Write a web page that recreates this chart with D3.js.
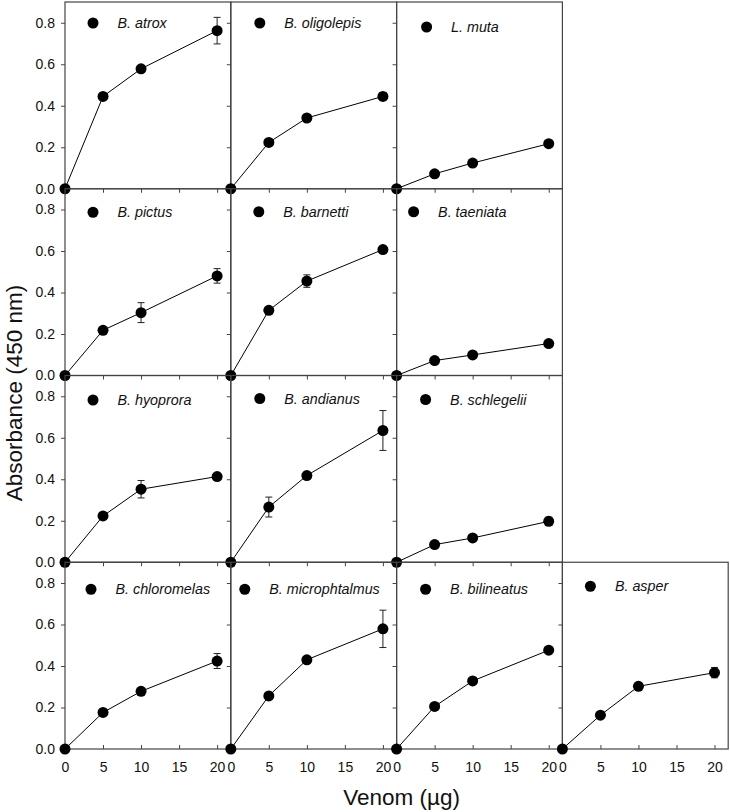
<!DOCTYPE html>
<html>
<head>
<meta charset="utf-8">
<script src="https://cdn.jsdelivr.net/npm/d3@7"></script>
<style>
  html, body { margin: 0; padding: 0; background: #fff; }
  svg { display: block; font-family: Arial, "Liberation Sans", sans-serif; }
</style>
</head>
<body>
<svg id="chart" width="730" height="812"></svg>
<script>
// ---------------- data ----------------
const doses = [0, 5, 10, 20];
const species = ["B. atrox", "B. oligolepis", "L. muta",
                 "B. pictus", "B. barnetti", "B. taeniata",
                 "B. hyoprora", "B. andianus", "B. schlegelii",
                 "B. chloromelas", "B. microphtalmus", "B. bilineatus", "B. asper"];
const absorbance = [
  [0, 0.445, 0.578, 0.762],
  [0, 0.223, 0.341, 0.445],
  [0, 0.072, 0.124, 0.217],
  [0, 0.218, 0.303, 0.480],
  [0, 0.314, 0.455, 0.607],
  [0, 0.072, 0.099, 0.154],
  [0, 0.223, 0.352, 0.413],
  [0, 0.266, 0.418, 0.635],
  [0, 0.085, 0.117, 0.197],
  [0, 0.176, 0.278, 0.424],
  [0, 0.256, 0.430, 0.579],
  [0, 0.205, 0.328, 0.476],
  [0, 0.163, 0.302, 0.368]
];
const errors = [
  [0, 0.010, 0.012, 0.064],
  [0, 0.008, 0.010, 0.018],
  [0, 0.005, 0.006, 0.008],
  [0, 0.010, 0.048, 0.035],
  [0, 0.008, 0.030, 0.010],
  [0, 0.005, 0.005, 0.006],
  [0, 0.010, 0.042, 0.010],
  [0, 0.048, 0.010, 0.096],
  [0, 0.008, 0.008, 0.020],
  [0, 0.010, 0.010, 0.036],
  [0, 0.010, 0.010, 0.090],
  [0, 0.008, 0.010, 0.012],
  [0, 0.008, 0.010, 0.025]
];
const xTicks = [0, 5, 10, 15, 20];
const yTicks = [0, 0.2, 0.4, 0.6, 0.8];
const xTitle = "Venom (\u00B5g)";
const yTitle = "Absorbance (450 nm)";

// ---------------- layout ----------------
const left0 = 65, top0 = 2;
const colW = 165.8, rowH = 186.75;
// legend offsets (dx, dy) from the panel's top-left corner
const legendLayout = [
  [28, 21], [29, 21], [30, 25],
  [28, 23.5], [28, 23], [17, 23],
  [28, 24.5], [29, 23], [29, 24],
  [26, 27], [14, 27], [29, 27], [28, 24]
];
const textGap = 24.5;

const svg = d3.select("#chart");
const frameColor = "#444";
const fontFam = "Arial, 'Liberation Sans', sans-serif";

const x = d3.scaleLinear().domain([0, 21.8]).range([0, colW]);
const y = d3.scaleLinear().domain([0, 0.9]).range([rowH, 0]);

species.forEach((name, i) => {
  const row = i < 9 ? Math.floor(i / 3) : 3;
  const col = i < 9 ? i % 3 : i - 9;
  const px = left0 + col * colW;
  const py = top0 + row * rowH;
  const g = svg.append("g").attr("transform", `translate(${px},${py})`);

  // y axis (ticks outward to the left)
  const ya = d3.axisLeft(y).tickValues(yTicks).tickSize(4).tickPadding(6)
    .tickFormat(col === 0 ? d3.format(".1f") : () => "");
  const yg = g.append("g").call(ya);
  yg.select(".domain").remove();
  yg.selectAll(".tick line").attr("stroke", frameColor);
  yg.selectAll(".tick text").attr("fill", "#111").style("font-size", "14px")
    .style("font-family", fontFam);

  // x axis
  const bottomRow = row === 3;
  const xa = d3.axisBottom(x).tickValues(xTicks)
    .tickSizeInner(bottomRow ? -4 : 4).tickSizeOuter(0).tickPadding(bottomRow ? 13 : 3)
    .tickFormat(bottomRow ? d3.format("d") : () => "");
  const xg = g.append("g").attr("transform", `translate(0,${rowH})`).call(xa);
  xg.select(".domain").remove();
  xg.selectAll(".tick line").attr("stroke", frameColor);
  xg.selectAll(".tick text").attr("fill", "#111").style("font-size", "14px")
    .style("font-family", fontFam);

  // frame
  g.append("rect").attr("x", 0).attr("y", 0).attr("width", colW).attr("height", rowH)
    .attr("fill", "none").attr("stroke", frameColor).attr("stroke-width", 1.2);

  const pts = doses.map((d, k) => ({ x: d, y: absorbance[i][k], e: errors[i][k] }));

  // line
  g.append("path").datum(pts)
    .attr("d", d3.line().x(d => x(d.x)).y(d => y(d.y)))
    .attr("fill", "none").attr("stroke", "#000").attr("stroke-width", 1);

  // error bars
  const eb = g.append("g").attr("stroke", "#222").attr("stroke-width", 1);
  pts.filter(d => d.e > 0).forEach(d => {
    const cx = x(d.x), y1 = y(d.y + d.e), y2 = y(d.y - d.e);
    eb.append("line").attr("x1", cx).attr("x2", cx).attr("y1", y1).attr("y2", y2);
    eb.append("line").attr("x1", cx - 3.5).attr("x2", cx + 3.5).attr("y1", y1).attr("y2", y1);
    eb.append("line").attr("x1", cx - 3.5).attr("x2", cx + 3.5).attr("y1", y2).attr("y2", y2);
  });

  // markers
  g.selectAll("circle.pt").data(pts).enter().append("circle").attr("class", "pt")
    .attr("cx", d => x(d.x)).attr("cy", d => y(d.y)).attr("r", 5.5).attr("fill", "#000");

  // legend
  const [lx, ly] = legendLayout[i];
  g.append("circle").attr("cx", lx).attr("cy", ly).attr("r", 5.5).attr("fill", "#000");
  g.append("text").attr("x", lx + textGap).attr("y", ly).attr("dy", "0.35em")
    .attr("fill", "#111").style("font-size", "14.3px").style("font-style", "italic")
    .text(name);
});

// axis titles
svg.append("text").attr("x", left0 + 2 * colW + 5).attr("y", 805)
  .attr("text-anchor", "middle").style("font-size", "22.5px").attr("fill", "#111")
  .text(xTitle);
svg.append("text").attr("transform", "translate(22,393) rotate(-90)")
  .attr("text-anchor", "middle").style("font-size", "22.5px").attr("fill", "#111")
  .text(yTitle);
</script>
</body>
</html>
